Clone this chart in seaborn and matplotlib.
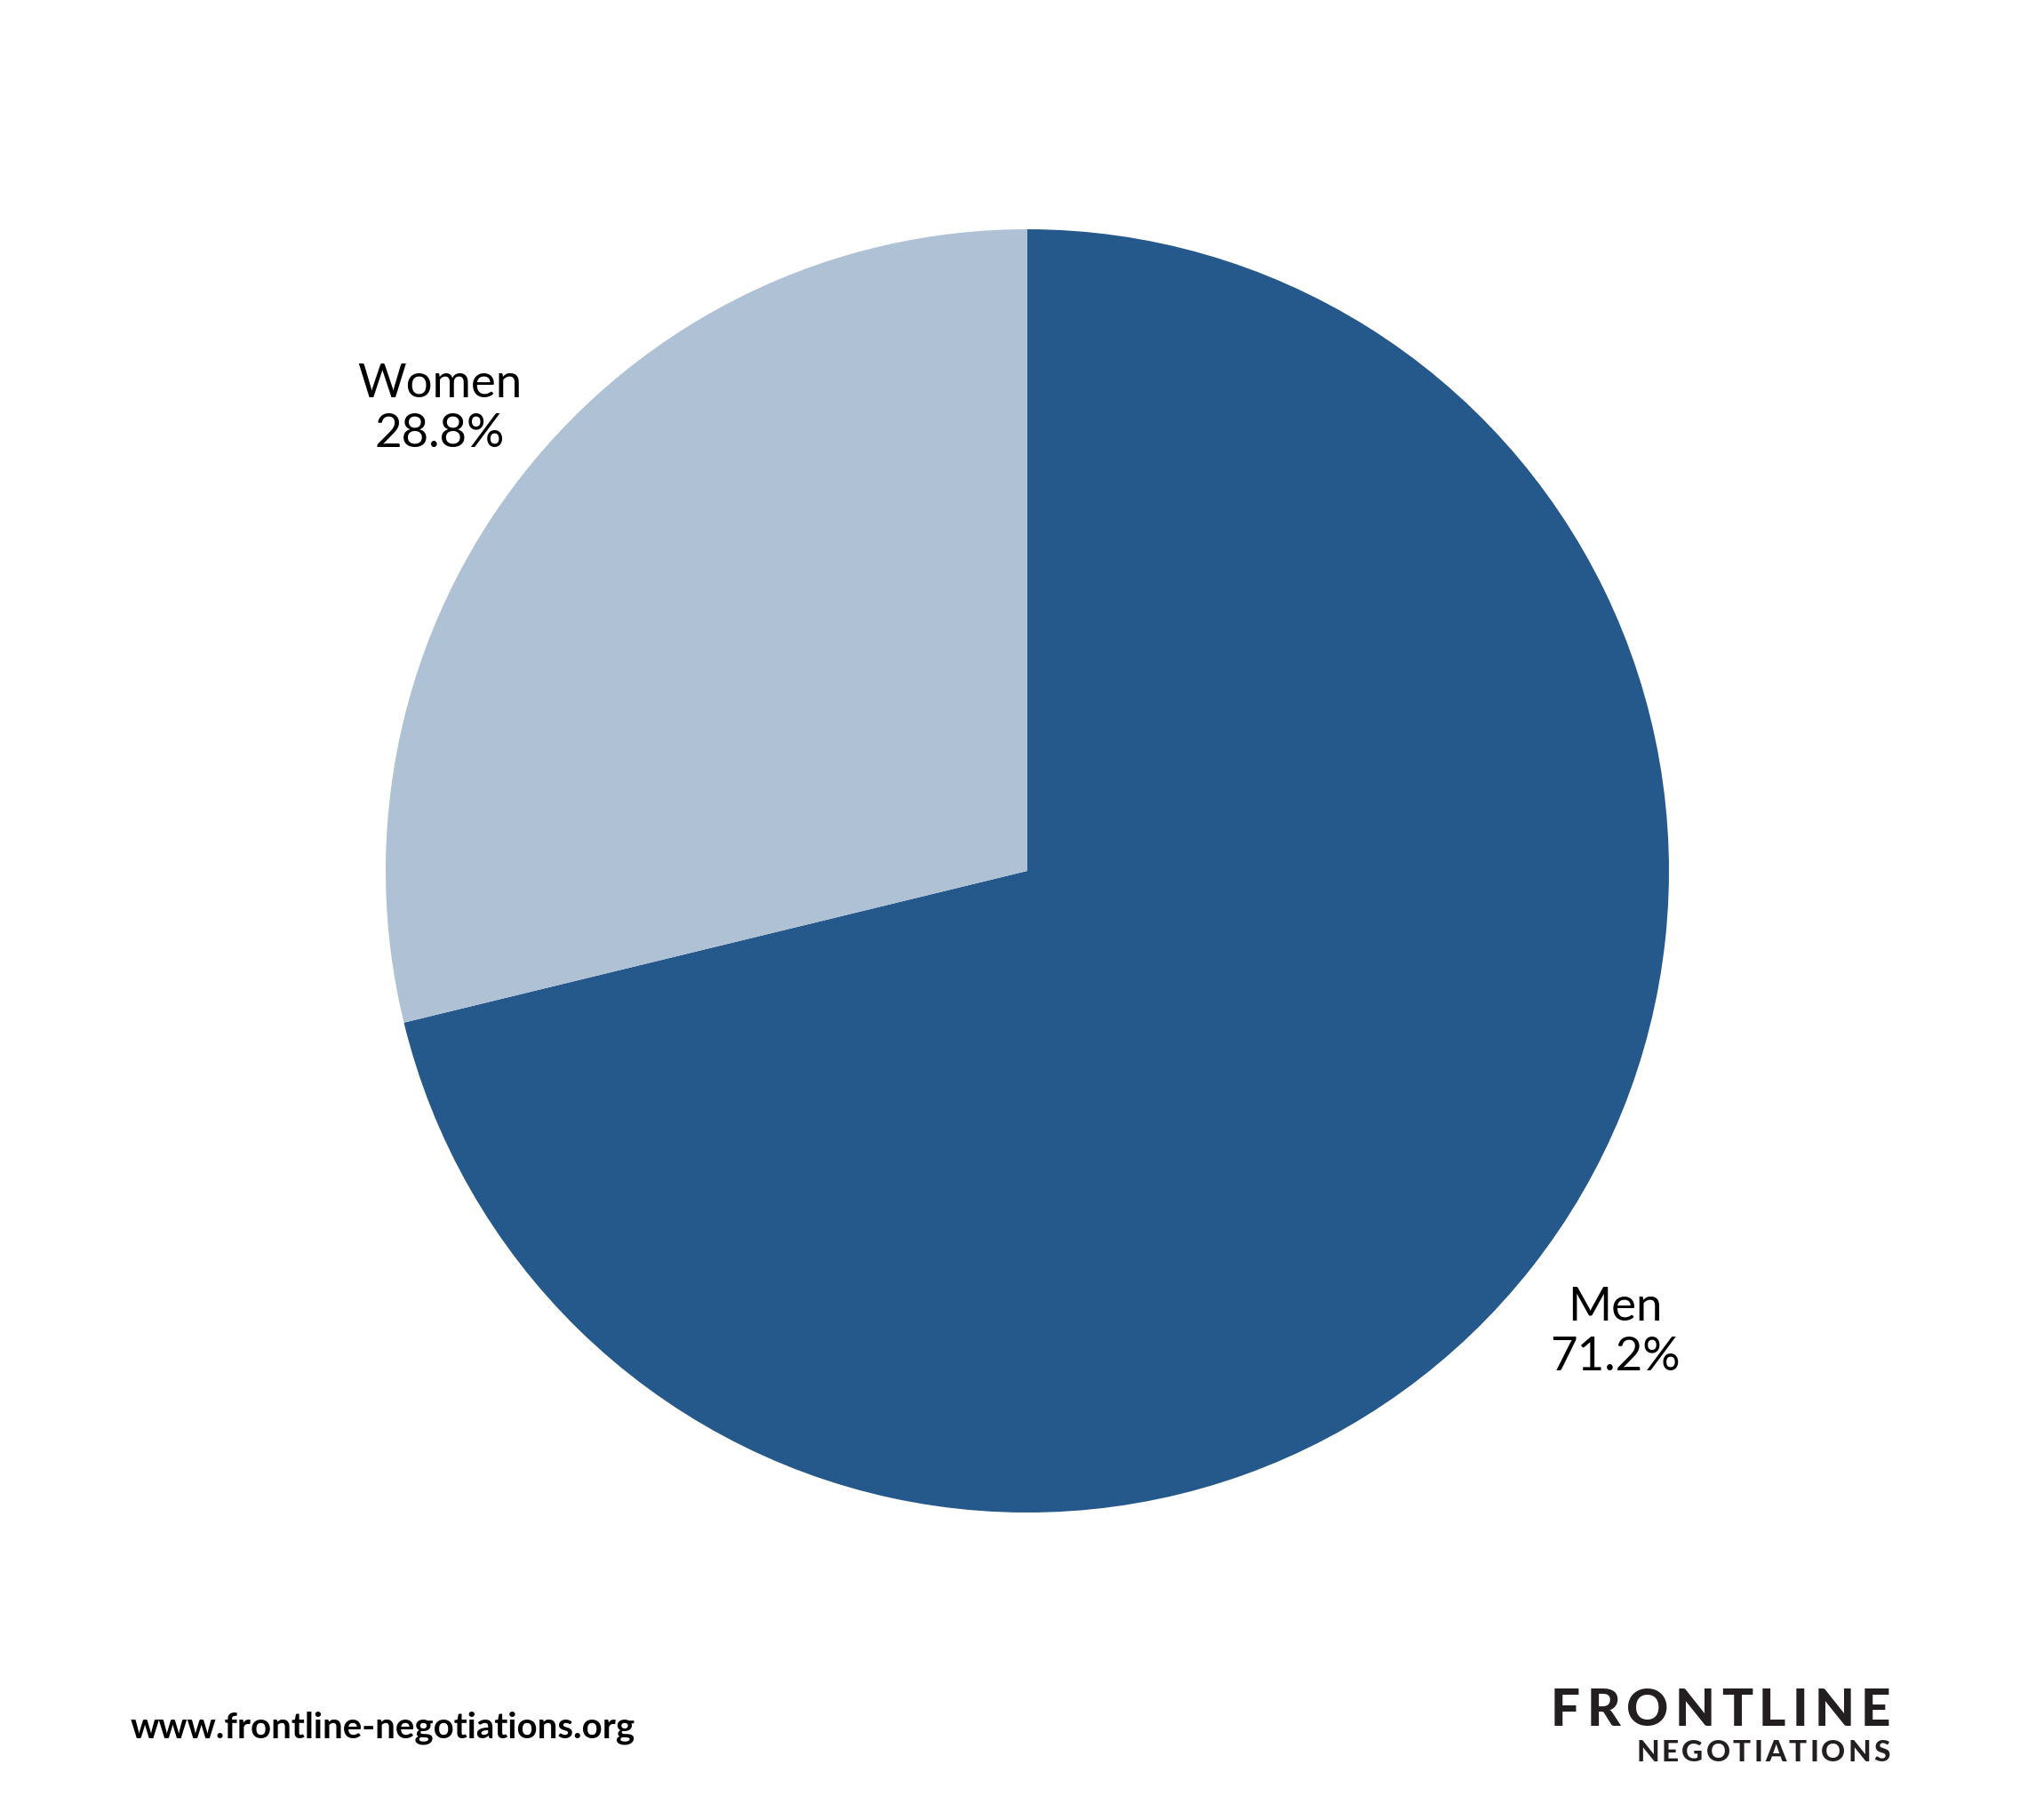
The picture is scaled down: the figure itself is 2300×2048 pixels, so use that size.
import matplotlib
matplotlib.use("Agg")
import matplotlib.pyplot as plt
import seaborn as sns

# chart data
labels = ["Men", "Women"]
shares = [71.2, 28.8]
colors = ["#25588B", "#AFC1D5"]

W, H = 2300, 2048

sns.set_theme(style="white")
plt.rcParams["font.family"] = ["Lato", "DejaVu Sans"]


def px(x, y):
    # pixel position (from top-left) to figure fraction
    return x / W, 1 - y / H


def spaced_text(fig, s, x_left, x_right, y_mid, size):
    # draw letters one by one so the logo fills the given width
    r = fig.canvas.get_renderer()
    widths = []
    for ch in s:
        t = fig.text(0, 0, ch, fontsize=size, fontweight="black")
        widths.append(t.get_window_extent(r).width)
        t.remove()
    tracking = (x_right - x_left - sum(widths)) / (len(s) - 1)
    x = x_left
    for ch, w in zip(s, widths):
        fx, fy = px(x, y_mid)
        fig.text(fx, fy, ch, fontsize=size, fontweight="black",
                 color="#231f20", ha="left", va="center")
        x += w + tracking


def main():
    fig = plt.figure(figsize=(W / 100, H / 100), dpi=100)
    fig.patch.set_facecolor("white")

    cx, cy, rad = 1156, 980, 722
    ax = fig.add_axes([(cx - rad) / W, (H - cy - rad) / H, 2 * rad / W, 2 * rad / H])
    pie_labels = [f"{l}\n{v:.1f}%" for l, v in zip(labels, shares)]
    wedges, texts = ax.pie(shares, labels=pie_labels, colors=colors,
                           startangle=90, counterclock=False,
                           labeldistance=1.165,
                           wedgeprops=dict(linewidth=0),
                           textprops=dict(fontsize=38, color="black",
                                          linespacing=1.25))
    for t in texts:
        t.set_ha("center")
        t.set_va("center")
    ax.set_xlim(-1, 1)
    ax.set_ylim(-1, 1)
    ax.set_aspect("equal")
    ax.axis("off")

    # footer
    fx, fy = px(147, 1944)
    fig.text(fx, fy, "www.frontline-negotiations.org", fontsize=29,
             fontweight="bold", color="black", ha="left", va="center")
    spaced_text(fig, "FRONTLINE", 1745, 2127, 1926, 42)
    spaced_text(fig, "NEGOTIATIONS", 1841, 2127, 1973, 24)

    fig.savefig("out.png", dpi=100, facecolor="white")


if __name__ == "__main__":
    main()
